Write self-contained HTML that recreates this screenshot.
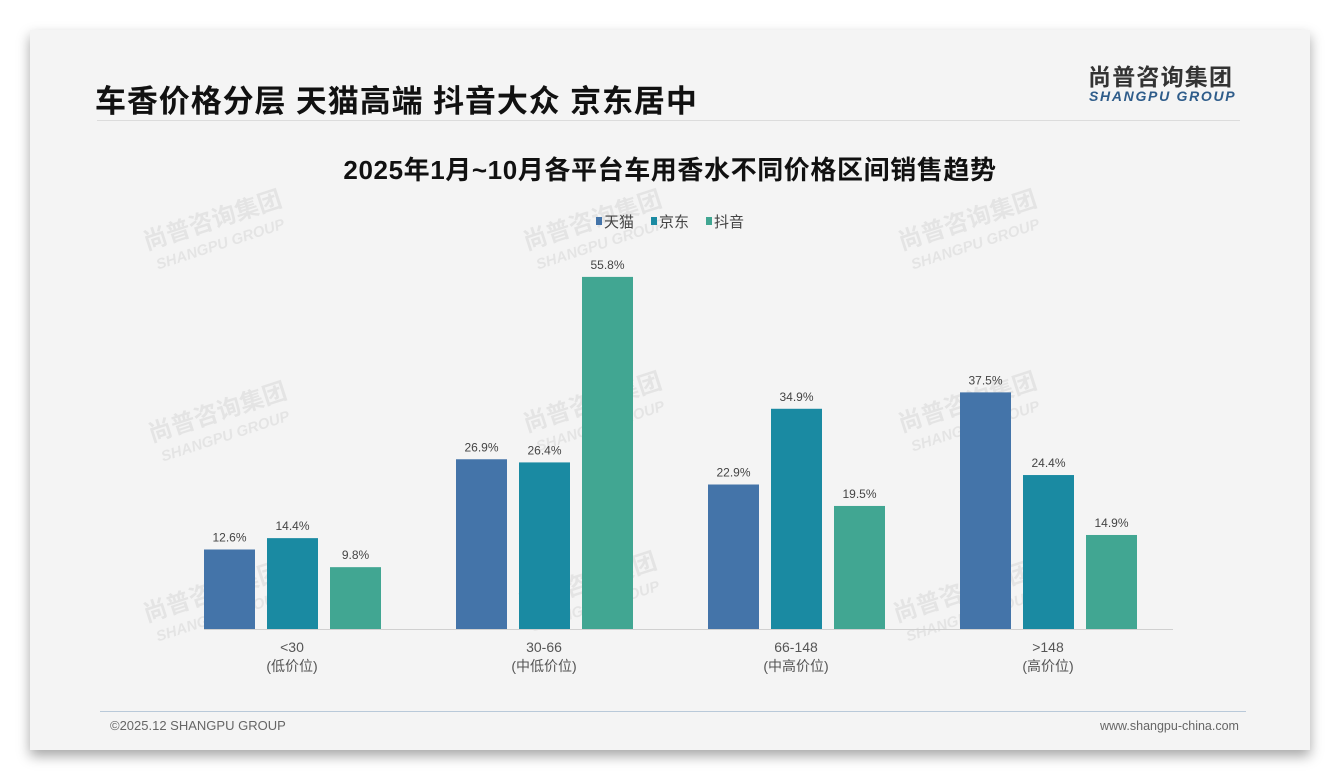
<!DOCTYPE html>
<html><head><meta charset="utf-8"><style>
body{margin:0;width:1340px;height:780px;background:#fff;font-family:"Liberation Sans","Noto Sans CJK SC",sans-serif;overflow:hidden;position:relative}
#card{position:absolute;left:30px;top:30px;width:1280px;height:720px;background:#f4f4f4;box-shadow:0 6px 12px rgba(0,0,0,.35)}
.t{position:absolute;white-space:nowrap}
</style></head><body>
<div id="card"></div>
<div class="t" style="left:95px;top:76px;font-size:31px;letter-spacing:0.9px;font-weight:bold;color:#111">车香价格分层 天猫高端 抖音大众 京东居中</div>
<div class="t" style="left:1088px;top:58px;font-size:23px;letter-spacing:1.2px;font-weight:bold;color:#333">尚普咨询集团</div>
<div class="t" style="left:1089px;top:88px;font-size:14px;font-weight:bold;font-style:italic;color:#2e5c8a;letter-spacing:1.7px">SHANGPU GROUP</div>
<div style="position:absolute;left:97px;top:120px;width:1143px;height:1px;background:#dcdcdc"></div>
<div class="t" style="left:0;width:1340px;text-align:center;top:150px;font-size:26px;letter-spacing:0.6px;font-weight:bold;color:#111">2025年1月~10月各平台车用香水不同价格区间销售趋势</div>
<svg id="chart" width="1340" height="780" style="position:absolute;left:0;top:0"></svg>
<div style="position:absolute;left:100px;top:711px;width:1146px;height:1px;background:#b9c9d9"></div>
<div class="t" style="left:110px;top:718px;font-size:13px;color:#666">©2025.12 SHANGPU GROUP</div>
<div class="t" style="left:1100px;top:719px;font-size:12.5px;color:#666">www.shangpu-china.com</div>
<script>
const categories=["<30","30-66","66-148",">148"];
const subLabels=["(低价位)","(中低价位)","(中高价位)","(高价位)"];
const seriesNames=["天猫","京东","抖音"];
const tmall=[12.6,26.9,22.9,37.5];
const jd=[14.4,26.4,34.9,24.4];
const douyin=[9.8,55.8,19.5,14.9];
const colors=["#4474a9","#1a8aa2","#41a692"];
const series=[tmall,jd,douyin];
const svg=document.getElementById('chart');
const NS="http://www.w3.org/2000/svg";
function mk(tag,attrs,txt){const e=document.createElementNS(NS,tag);for(const k in attrs)e.setAttribute(k,attrs[k]);if(txt!=null)e.textContent=txt;svg.appendChild(e);return e;}
const baseY=629,pxPer=6.31,x0=166,groupW=252,barW=51,barGap=12;
const y=v=>baseY-v*pxPer;
const xc=i=>x0+groupW*(i+0.5);
[[215,228],[595,228],[970,228],[220,420],[595,410],[970,410],[215,600],[590,590],[965,600]].forEach(p=>{
 const g=document.createElementNS(NS,'g');g.setAttribute('transform',`translate(${p[0]},${p[1]}) rotate(-18)`);g.setAttribute('opacity','0.06');
 
 
 const a=document.createElementNS(NS,'text');a.setAttribute('text-anchor','middle');a.setAttribute('font-size','24');a.setAttribute('font-weight','bold');a.textContent='尚普咨询集团';
 const b=document.createElementNS(NS,'text');b.setAttribute('text-anchor','middle');b.setAttribute('y','22');b.setAttribute('font-size','15');b.setAttribute('font-weight','bold');b.setAttribute('font-style','italic');b.textContent='SHANGPU GROUP';
 g.appendChild(a);g.appendChild(b);svg.appendChild(g);
});
series.forEach((s,si)=>{
 s.forEach((v,i)=>{
  const bx=xc(i)-88+si*(barW+barGap);
  const r=mk('rect',{x:bx,y:y(v),width:barW,height:v*pxPer,fill:colors[si]});
  
  
  const t=mk('text',{x:bx+barW/2,y:y(v)-8,'text-anchor':'middle','font-size':12,fill:'#444'},v.toFixed(1)+'%');
  
  
 });
});
const ax=mk('line',{x1:204,x2:1173,y1:baseY+0.5,y2:baseY+0.5,stroke:'#d0d0d0','stroke-width':1});


categories.forEach((c,i)=>{
 const a=mk('text',{x:xc(i),y:652,'text-anchor':'middle','font-size':14,fill:'#555'},c);
 
 
 const b=mk('text',{x:xc(i),y:671,'text-anchor':'middle','font-size':14,fill:'#555'},subLabels[i]);
 
 
});
let lx=596;
seriesNames.forEach((n,i)=>{
 const r=mk('rect',{x:lx,y:217,width:6,height:8,fill:colors[i]});
 
 
 const t=mk('text',{x:lx+8,y:227,'font-size':15,fill:'#444'},n);
 
 
 lx+=55;
});
</script>
</body></html>
